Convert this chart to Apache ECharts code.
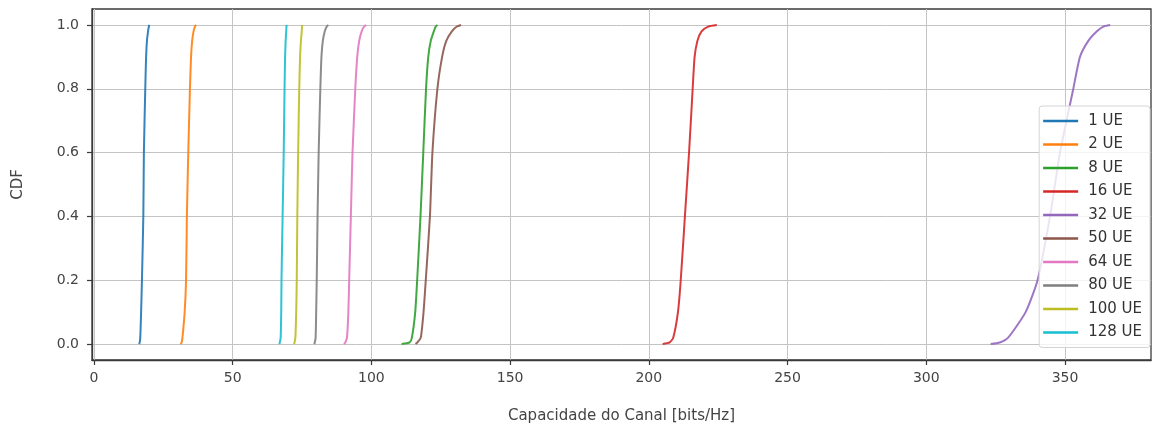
<!DOCTYPE html>
<html>
<head>
<meta charset="utf-8">
<script src="https://cdn.jsdelivr.net/npm/echarts@6/dist/echarts.min.js"></script>
<style>
html,body{margin:0;padding:0;background:#fff;}
#chart{width:1153px;height:427px;}
</style>
</head>
<body>
<div id="chart"></div>
<script>
// CDF levels shared by all curves
const cdfLevels = [0, 0.005, 0.02, 0.1, 0.2, 0.4, 0.6, 0.8, 0.9, 0.95, 0.98, 0.995, 1.0];
// Channel capacity [bits/Hz] at each CDF level
const ue1   = [16.3, 16.5, 16.7, 17.0, 17.3, 17.8, 18.0, 18.5, 18.8, 19.1, 19.5, 19.8, 20.0];
const ue2   = [31.2, 31.6, 31.9, 32.7, 33.2, 33.5, 34.0, 34.6, 35.0, 35.4, 35.9, 36.4, 36.8];
const ue8   = [110.9, 113.8, 114.6, 115.8, 116.5, 117.7, 118.7, 119.7, 120.5, 121.4, 122.5, 123.2, 123.8];
const ue16  = [205.0, 207.5, 208.8, 210.5, 211.5, 213.0, 214.5, 215.8, 216.5, 217.5, 219.0, 221.4, 224.5];
const ue32  = [323.2, 326.5, 329.5, 335.8, 340.1, 344.6, 348.2, 353.0, 355.4, 358.4, 361.5, 363.8, 366.3];
const ue50  = [115.9, 116.6, 117.8, 118.8, 119.6, 121.1, 122.0, 123.8, 125.5, 127.0, 129.0, 130.8, 132.3];
const ue64  = [90.1, 90.6, 91.2, 91.7, 92.0, 92.6, 93.2, 94.2, 94.9, 95.6, 96.5, 97.4, 98.1];
const ue80  = [79.4, 79.6, 79.9, 80.1, 80.3, 80.6, 81.0, 81.6, 82.0, 82.5, 83.2, 83.9, 84.5];
const ue100 = [72.1, 72.3, 72.6, 72.9, 73.1, 73.3, 73.6, 74.0, 74.3, 74.6, 74.9, 75.0, 75.1];
const ue128 = [66.8, 67.0, 67.3, 67.5, 67.6, 68.0, 68.4, 68.7, 68.9, 69.1, 69.3, 69.4, 69.5];

const seriesNames = ['1 UE','2 UE','8 UE','16 UE','32 UE','50 UE','64 UE','80 UE','100 UE','128 UE'];
const seriesValues = [ue1, ue2, ue8, ue16, ue32, ue50, ue64, ue80, ue100, ue128];
const colors = ['#1f77b4','#ff7f0e','#2ca02c','#d62728','#9467bd','#8c564b','#e377c2','#7f7f7f','#bcbd22','#17becf'];

const xTicks = [0, 50, 100, 150, 200, 250, 300, 350];
const yTicks = [0, 0.2, 0.4, 0.6, 0.8, 1.0];

const chart = echarts.init(document.getElementById('chart'), null, {renderer: 'canvas'});
const font = 'DejaVu Sans';

const series = seriesNames.map((name, i) => ({
  name: name,
  type: 'line',
  data: seriesValues[i].map((x, k) => [x, cdfLevels[k]]),
  showSymbol: false,
  symbol: 'none',
  smooth: 0.2,
  lineStyle: {width: 2, color: colors[i], opacity: 0.9},
  itemStyle: {color: colors[i]},
  z: 3
}));

chart.setOption({
  animation: false,
  backgroundColor: '#ffffff',
  color: colors,
  grid: {left: 92, right: 2, top: 9, bottom: 67, outerBoundsMode: 'none', containLabel: false, show: true, borderColor: '#3a3a3a', borderWidth: 1.3, backgroundColor: 'transparent'},
  xAxis: {
    type: 'value',
    min: -0.7, max: 381,
    name: 'Capacidade do Canal [bits/Hz]',
    nameLocation: 'middle',
    nameGap: 49,
    nameTextStyle: {fontFamily: font, fontSize: 15, color: '#444'},
    axisLine: {show: true, onZero: false, lineStyle: {color: '#3a3a3a', width: 1.3}},
    axisTick: {show: true, length: 5, customValues: xTicks, lineStyle: {color: '#3a3a3a', width: 1.2}},
    axisLabel: {customValues: xTicks, fontFamily: font, fontSize: 14, color: '#444', margin: 11, formatter: v => String(v)},
    splitLine: {show: true, lineStyle: {color: '#c4c4c4', width: 1}}
  },
  yAxis: {
    type: 'value',
    min: -0.05, max: 1.05,
    name: 'CDF',
    nameLocation: 'middle',
    nameGap: 66,
    nameTextStyle: {fontFamily: font, fontSize: 15, color: '#444'},
    axisLine: {show: true, onZero: false, lineStyle: {color: '#3a3a3a', width: 1.3}},
    axisTick: {show: true, length: 5, customValues: yTicks, lineStyle: {color: '#3a3a3a', width: 1.2}},
    axisLabel: {customValues: yTicks, fontFamily: font, fontSize: 14, color: '#444', margin: 13, formatter: v => v.toFixed(1)},
    splitLine: {show: true, lineStyle: {color: '#c4c4c4', width: 1}}
  },
  legend: {
    orient: 'vertical',
    right: 3, top: 106,
    data: seriesNames,
    icon: 'rect',
    itemWidth: 35, itemHeight: 2.5,
    itemGap: 7.5,
    padding: [7, 8, 7, 4],
    backgroundColor: 'rgba(255,255,255,0.8)',
    borderColor: '#d4d4d4', borderWidth: 1, borderRadius: 3,
    textStyle: {fontFamily: font, fontSize: 15, color: '#333', lineHeight: 16, padding: [0, 0, 0, 5]},
    itemStyle: {borderWidth: 0}
  },
  series: series
});
</script>
</body>
</html>
